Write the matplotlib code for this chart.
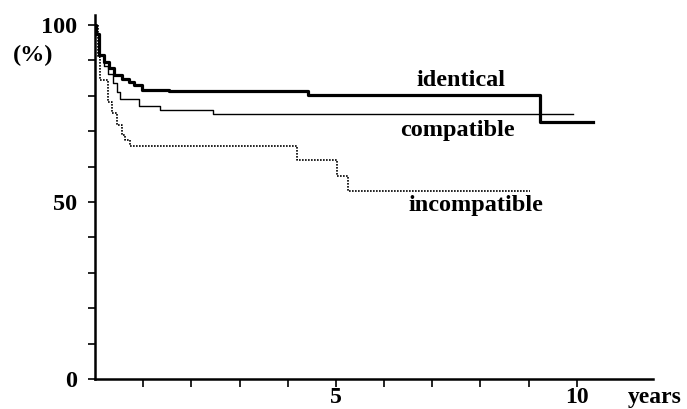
import numpy as np
import matplotlib
matplotlib.use("Agg")
import matplotlib.pyplot as plt

# survival curves (years, %)
identical_t = [0, 0.02, 0.08, 0.19, 0.29, 0.39, 0.56, 0.70, 0.81, 0.97, 1.53, 4.42, 9.23, 10.33]
identical_s = [100, 97.5, 91.5, 89.5, 87.8, 85.9, 84.7, 83.9, 83.1, 81.6, 81.4, 80.3, 72.6, 72.6]

compatible_t = [0, 0.02, 0.08, 0.19, 0.27, 0.37, 0.46, 0.52, 0.91, 1.35, 2.44, 9.92]
compatible_s = [100, 97.5, 91.5, 88.5, 86.0, 83.6, 81.0, 79.1, 77.1, 76.0, 74.9, 74.9]

incompatible_t = [0, 0.06, 0.10, 0.27, 0.35, 0.46, 0.56, 0.62, 0.73, 4.19, 5.02, 5.25, 9.02]
incompatible_s = [100, 91.0, 84.5, 78.2, 75.1, 71.8, 68.9, 67.5, 65.8, 61.9, 57.3, 53.1, 53.1]

labels = ["identical", "compatible", "incompatible"]
label_pos = [(7.59, 84.3), (7.53, 70.3), (7.90, 48.9)]

xticks = list(range(1, 11))
xtick_labels = ["" if v not in (5, 10) else str(v) for v in xticks]
yticks = [0, 50, 100]

plt.rcParams['font.family'] = ['Liberation Serif', 'DejaVu Serif']
plt.rcParams['font.weight'] = 'bold'

fig = plt.figure(figsize=(6.87, 4.09), dpi=100)
ax = fig.add_axes([0.1383, 0.0733, 0.9505 - 0.1383, 0.9633 - 0.0733])

ax.step(identical_t, identical_s, where='post', color='black', lw=2.3)
ax.step(compatible_t, compatible_s, where='post', color='black', lw=1.0)
ax.step(incompatible_t, incompatible_s, where='post', color='black', lw=1.2,
        linestyle=(0, (1, 0.8)))

for txt, (x, y) in zip(labels, label_pos):
	ax.text(x, y, txt, ha='center', va='center', fontsize=17.5, fontweight='bold')

ax.set_xlim(0, 11.58)
ax.set_ylim(0, 102.8)

ax.spines['top'].set_visible(False)
ax.spines['right'].set_visible(False)
ax.spines['left'].set_linewidth(1.8)
ax.spines['bottom'].set_linewidth(1.8)

ax.set_xticks(xticks)
ax.set_xticklabels(xtick_labels, fontsize=17, fontweight='bold')
ax.set_yticks(yticks)
ax.set_yticklabels([str(v) for v in yticks], fontsize=17.5, fontweight='bold')
ax.set_yticks(np.arange(10, 100, 10), minor=True)
ax.tick_params(axis='x', direction='out', length=6, width=1.2, pad=0)
ax.tick_params(axis='y', which='both', direction='out', length=5, width=1.2, pad=8)

ax.text(11.62, -5.2, "years", ha='center', va='center', fontsize=17,
        fontweight='bold', clip_on=False)
fig.text(33 / 687, 1 - 55 / 409, "(%)", ha='center', va='center', fontsize=17.5,
         fontweight='bold')

fig.savefig("out.png", dpi=100)
